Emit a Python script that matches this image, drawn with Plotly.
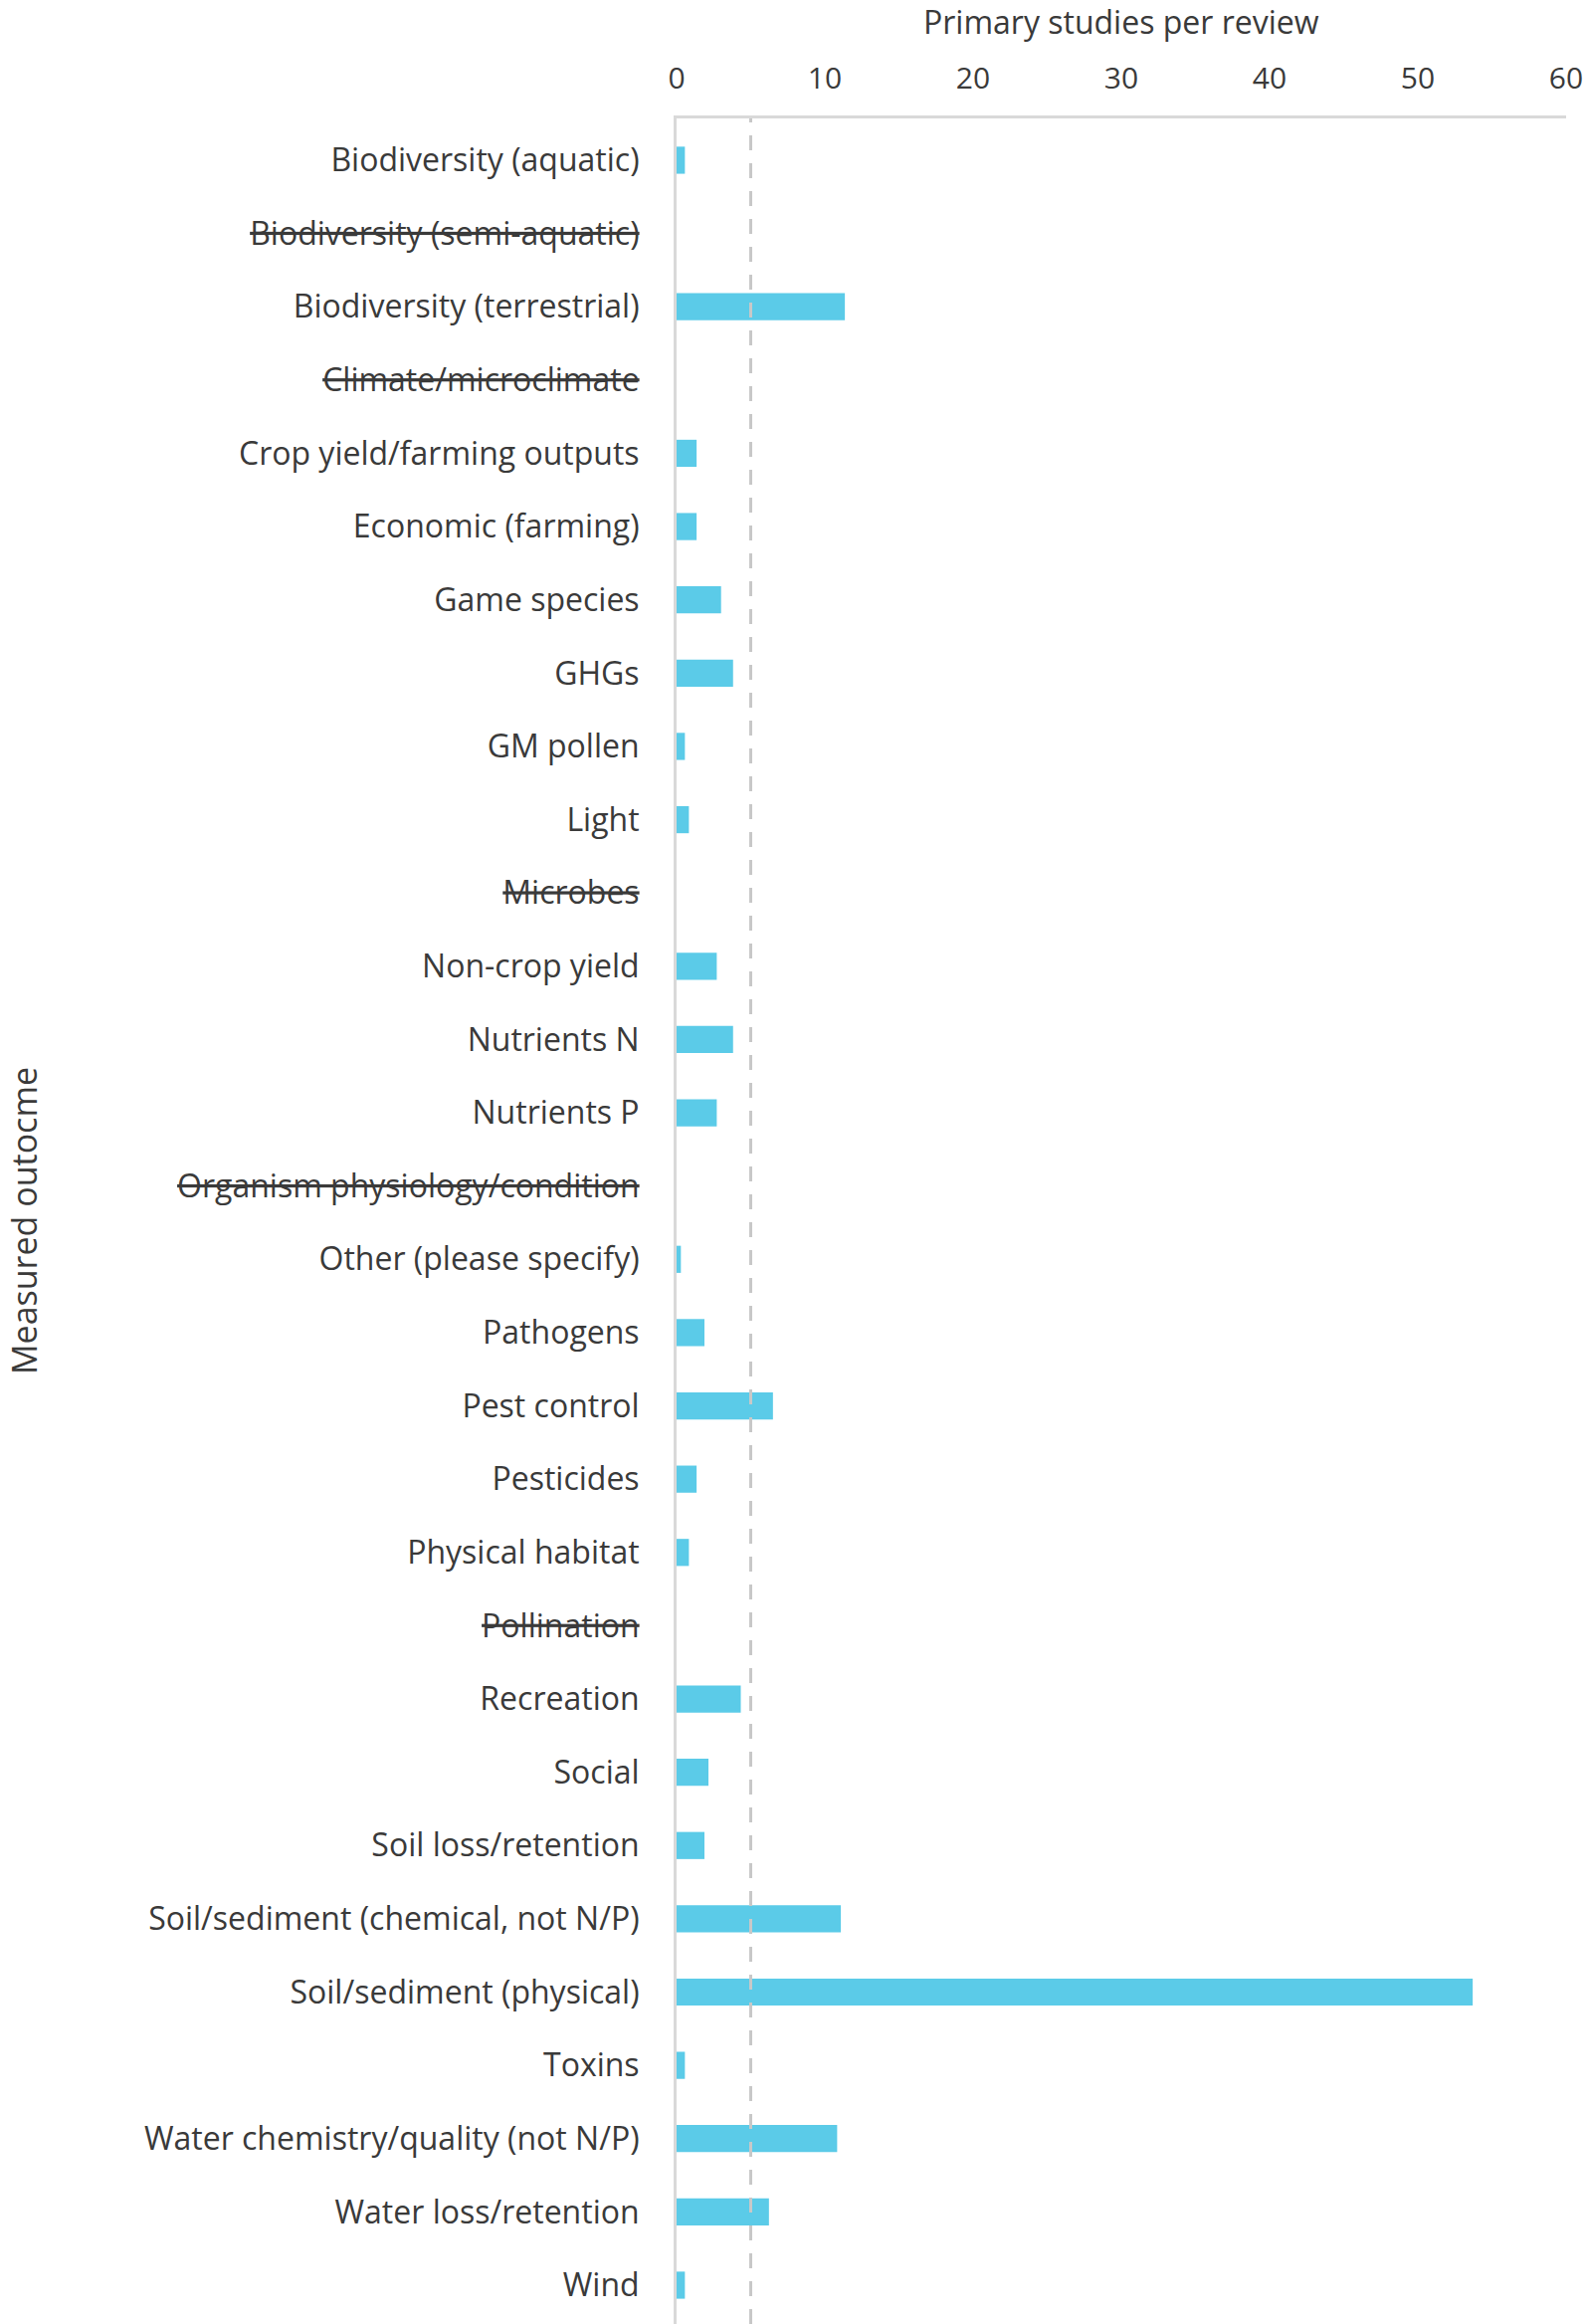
import plotly.graph_objects as go

# measured outcomes, top to bottom as in the chart
outcomes = [
    "Biodiversity (aquatic)", "Biodiversity (semi-aquatic)", "Biodiversity (terrestrial)",
    "Climate/microclimate", "Crop yield/farming outputs", "Economic (farming)",
    "Game species", "GHGs", "GM pollen", "Light", "Microbes", "Non-crop yield",
    "Nutrients N", "Nutrients P", "Organism physiology/condition", "Other (please specify)",
    "Pathogens", "Pest control", "Pesticides", "Physical habitat", "Pollination",
    "Recreation", "Social", "Soil loss/retention", "Soil/sediment (chemical, not N/P)",
    "Soil/sediment (physical)", "Toxins", "Water chemistry/quality (not N/P)",
    "Water loss/retention", "Wind",
]

studies_per_review = [
    0.56, 0, 11.35, 0, 1.35, 1.35, 3.0, 3.81, 0.56, 0.83, 0, 2.71, 3.81, 2.71, 0,
    0.29, 1.88, 6.5, 1.35, 0.83, 0, 4.33, 2.15, 1.88, 11.08, 53.7, 0.56, 10.83,
    6.23, 0.56,
]

# outcomes that are struck through in the original (no reviews)
struck = ["Biodiversity (semi-aquatic)", "Climate/microclimate", "Microbes",
          "Organism physiology/condition", "Pollination"]

reference_value = 5.0

strike = ('<span style="text-decoration:line-through;text-decoration-color:#000;'
          'text-decoration-thickness:3px">%s</span>')
tick_text = [strike % o if o in struck else o for o in outcomes]

W, H = 1595, 2335
ml, mr, mt, mb = 680, 21, 119, 0
pw = W - ml - mr
ph = H - mt - mb

fig = go.Figure()

fig.add_trace(go.Bar(
    x=studies_per_review,
    y=outcomes,
    orientation='h',
    width=0.37,
    marker=dict(color='#5BCBE8', line=dict(width=0)),
    showlegend=False,
))

# dashed reference line
fig.add_shape(type='line', x0=reference_value, x1=reference_value, xref='x',
              y0=0, y1=1, yref='paper',
              line=dict(color='#C8C8C8', width=3, dash='15px,13px'), layer='above')

fig.update_layout(
    width=W, height=H,
    margin=dict(l=ml, r=mr, t=mt, b=mb),
    plot_bgcolor='white', paper_bgcolor='white',
    font=dict(family='Open Sans, sans-serif', size=30, color='#3A3A3A'),
    xaxis=dict(
        side='top', range=[0, 60], dtick=10, showgrid=False, zeroline=False,
        showline=True, linecolor='#D9D9D9', linewidth=3, automargin=False,
        ticks='outside', ticklen=15, tickcolor='rgba(0,0,0,0)',
        tickfont=dict(size=30),
    ),
    yaxis=dict(
        categoryorder='array', categoryarray=outcomes, range=[29.53, -0.57],
        tickmode='array', tickvals=outcomes, ticktext=tick_text,
        showgrid=False, zeroline=False, automargin=False,
        showline=True, linecolor='#D9D9D9', linewidth=3,
        ticks='outside', ticklen=28, tickcolor='rgba(0,0,0,0)',
        tickfont=dict(size=32),
    ),
    annotations=[
        dict(text='Primary studies per review', xref='paper', yref='paper',
             x=0.5, y=1 + (mt - 21) / ph, xanchor='center', yanchor='middle',
             showarrow=False, font=dict(size=32)),
        dict(text='Measured outocme', xref='paper', yref='paper',
             x=(24 - ml) / pw, y=0.5, xanchor='center', yanchor='middle',
             textangle=-90, showarrow=False, font=dict(size=34)),
    ],
)

# drop the default page margin so the figure sits at the window's corner
fig.write_html("out.html", config={'displayModeBar': False},
               post_script="document.body.style.margin = '0';")
